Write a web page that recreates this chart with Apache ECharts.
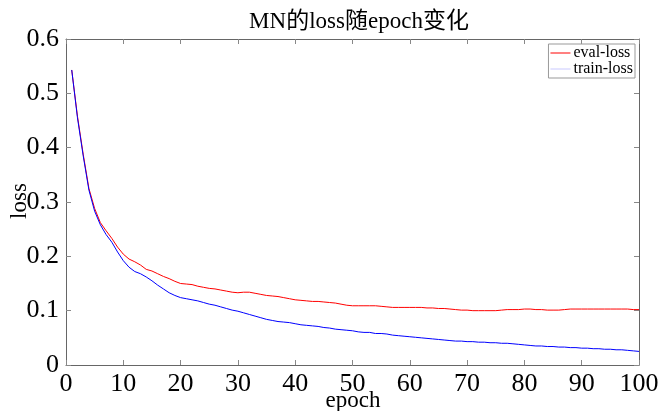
<!DOCTYPE html>
<html>
<head>
<meta charset="utf-8">
<script src="https://cdn.jsdelivr.net/npm/echarts@6/dist/echarts.min.js"></script>
<style>html,body{margin:0;padding:0;background:#fff;}#c{width:665px;height:411px;}</style>
</head>
<body>
<div id="c"></div>
<script>
const titleText = 'MN的loss随epoch变化';
const xName = 'epoch';
const yName = 'loss';
const seriesNames = ['eval-loss', 'train-loss'];
const epochs = [];
for (let i = 1; i <= 100; i++) epochs.push(i);
const evalLoss = [
  0.543,0.458,0.388,0.325,0.288,0.262,0.247,0.233,0.217,0.204,
  0.195,0.190,0.184,0.176,0.173,0.168,0.163,0.159,0.154,0.150,
  0.149,0.148,0.145,0.143,0.141,0.140,0.138,0.136,0.134,0.133,
  0.134,0.134,0.132,0.130,0.128,0.127,0.126,0.124,0.122,0.120,
  0.119,0.118,0.117,0.117,0.116,0.115,0.114,0.112,0.110,0.109,
  0.109,0.109,0.109,0.109,0.108,0.107,0.106,0.106,0.106,0.106,
  0.106,0.106,0.105,0.105,0.104,0.104,0.103,0.102,0.101,0.101,
  0.100,0.100,0.100,0.100,0.100,0.101,0.102,0.102,0.102,0.103,
  0.103,0.102,0.102,0.101,0.101,0.101,0.102,0.103,0.103,0.103,
  0.103,0.103,0.103,0.103,0.103,0.103,0.103,0.103,0.102,0.102
];
const trainLoss = [
  0.543,0.455,0.385,0.322,0.283,0.258,0.240,0.226,0.208,0.192,
  0.180,0.172,0.168,0.162,0.155,0.147,0.140,0.133,0.128,0.124,
  0.122,0.120,0.118,0.115,0.112,0.110,0.107,0.104,0.101,0.099,
  0.096,0.093,0.090,0.087,0.084,0.082,0.080,0.079,0.078,0.076,
  0.074,0.073,0.072,0.071,0.069,0.068,0.066,0.065,0.064,0.063,
  0.061,0.060,0.060,0.058,0.058,0.057,0.055,0.054,0.053,0.052,
  0.051,0.050,0.049,0.048,0.047,0.046,0.045,0.044,0.044,0.043,
  0.043,0.042,0.042,0.041,0.041,0.040,0.040,0.039,0.038,0.037,
  0.036,0.035,0.035,0.034,0.034,0.033,0.033,0.032,0.032,0.031,
  0.031,0.030,0.030,0.029,0.029,0.028,0.028,0.027,0.026,0.025
];
const xTicks = [0,10,20,30,40,50,60,70,80,90,100];
const yTicks = [0,0.1,0.2,0.3,0.4,0.5,0.6];

const FONT = "'Liberation Serif','Noto Sans CJK SC',serif";
const axisLineColor = '#666';
const tickColor = '#888';

function pair(arr){ return epochs.map((e,i)=>[e,arr[i]]); }

const chart = echarts.init(document.getElementById('c'), null, {renderer:'canvas'});
const baseX = {
  type:'value', min:xTicks[0], max:xTicks[xTicks.length-1], interval:10,
  axisLine:{show:true, onZero:false, lineStyle:{color:axisLineColor, width:1}},
  axisTick:{show:true, inside:true, length:5, lineStyle:{color:tickColor}},
  splitLine:{show:false}
};
const baseY = {
  type:'value', min:yTicks[0], max:yTicks[yTicks.length-1], interval:0.1,
  axisLine:{show:true, onZero:false, lineStyle:{color:axisLineColor, width:1}},
  axisTick:{show:true, inside:true, length:5, lineStyle:{color:tickColor}},
  splitLine:{show:false}
};
chart.setOption({
  animation:false,
  backgroundColor:'#fff',
  title:{text:titleText, left:354, textAlign:'center', top:5,
    textStyle:{fontFamily:FONT, fontSize:23, fontWeight:'normal', color:'#000'}},
  grid:{left:66, right:26, top:39, bottom:46, containLabel:false, outerBoundsMode:'none'},
  legend:{
    orient:'vertical', right:30, top:44, data:seriesNames,
    icon:'rect', itemWidth:20, itemHeight:1, itemGap:0,
    padding:[1,2,1,2], backgroundColor:'#fff',
    borderColor:'#999', borderWidth:1, borderRadius:0,
    textStyle:{fontFamily:FONT, fontSize:16, lineHeight:14, color:'#000', padding:[0,0,0,-2]}
  },
  graphic:[
    {type:'text', left:null, x:20, y:201, rotation:Math.PI/2,
      style:{text:yName, font:"23px 'Liberation Serif', serif", fill:'#000',
        textAlign:'center', textVerticalAlign:'middle'}},
    {type:'text', x:353, y:401,
      style:{text:xName, font:"23px 'Liberation Serif', serif", fill:'#000',
        textAlign:'center', textVerticalAlign:'middle'}}
  ],
  xAxis:[
    Object.assign({}, baseX, {position:'bottom',
      axisLabel:{show:true, margin:6, fontFamily:FONT, fontSize:26, color:'#000',
        formatter:(v)=>String(v)}}),
    Object.assign({}, baseX, {position:'top', axisLabel:{show:false}})
  ],
  yAxis:[
    Object.assign({}, baseY, {position:'left',
      axisLabel:{show:true, margin:7, fontFamily:FONT, fontSize:26, color:'#000',
        formatter:(v)=> v===0 ? '0' : v.toFixed(1)}}),
    Object.assign({}, baseY, {position:'right', axisLabel:{show:false}})
  ],
  series:[
    {name:seriesNames[0], type:'line', data:pair(evalLoss), showSymbol:false, symbol:'none',
      lineStyle:{color:'#ff0000', width:1}, itemStyle:{color:'#ff0000'}, z:2},
    {name:seriesNames[1], type:'line', data:pair(trainLoss), showSymbol:false, symbol:'none',
      lineStyle:{color:'#0000ff', width:1}, itemStyle:{color:'#c8c8ff'}, z:3}
  ]
});
</script>
</body>
</html>
